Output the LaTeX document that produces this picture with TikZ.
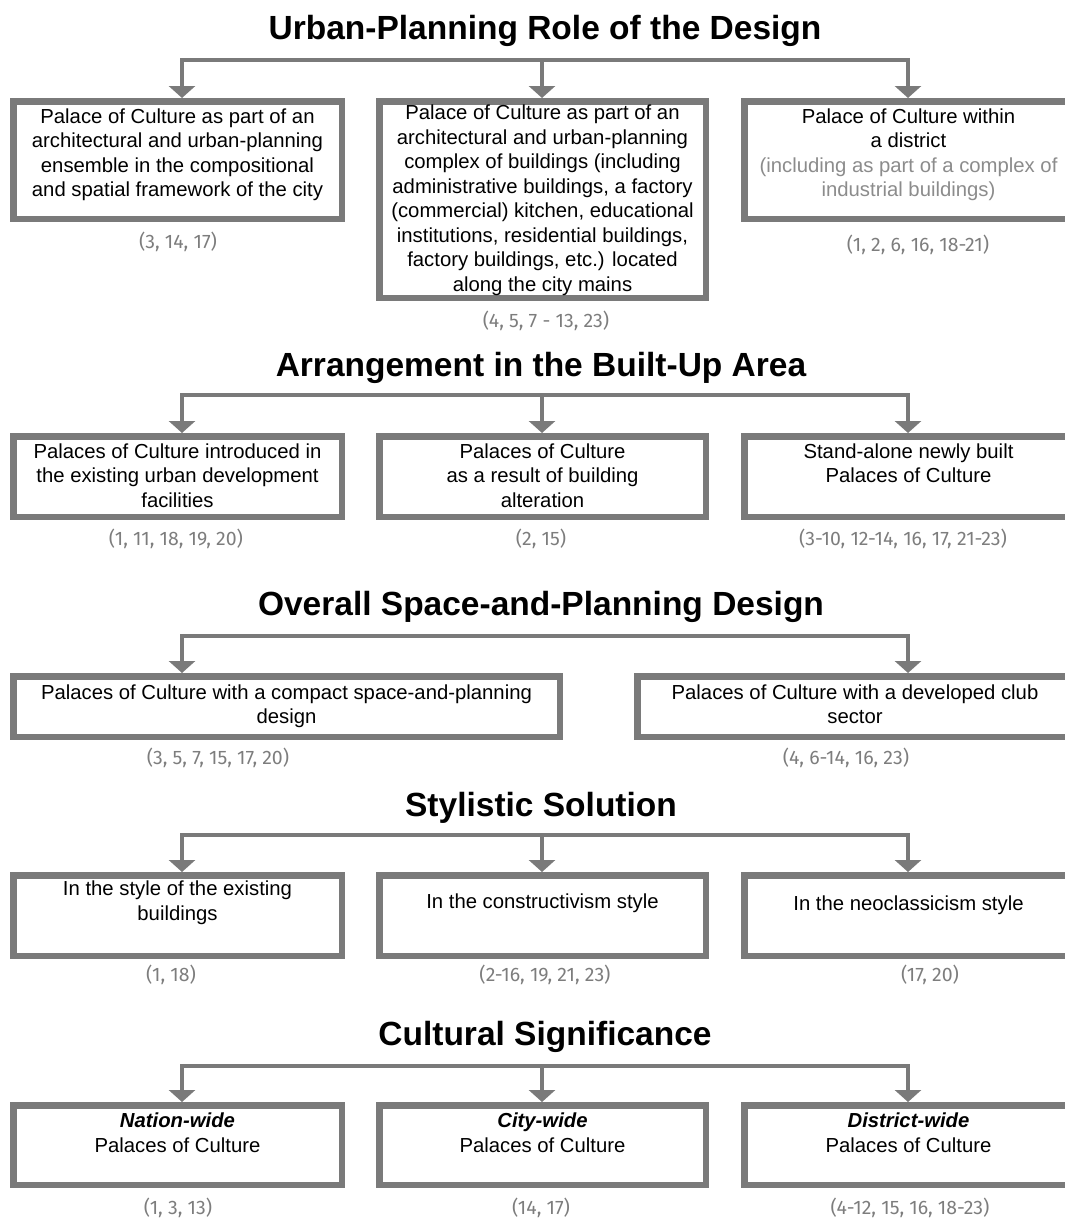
\documentclass[tikz,border=0pt]{standalone}
\usepackage{fontspec}
\setmainfont{Liberation Sans}
\newfontfamily\numfont{Fira Sans}
\usetikzlibrary{positioning,arrows.meta}

\definecolor{framegray}{RGB}{122,122,122}
\definecolor{refgray}{RGB}{125,125,125}
\definecolor{notegray}{RGB}{140,140,140}

\tikzset{
  heading/.style={anchor=base, inner sep=0pt, font=\fontsize{33.5}{38}\selectfont\bfseries},
  catbox/.style={draw=framegray, line width=6.5pt, fill=white, inner sep=0pt},
  cattext/.style={anchor=north, inner sep=0pt, align=center,
    font=\fontsize{20.3}{24.5}\selectfont, execute at begin node=\strut},
  reflabel/.style={anchor=base, inner sep=0pt, text=refgray,
    font=\fontsize{19.5}{22}\selectfont\numfont},
  link/.style={draw=framegray, line width=4.5pt},
}

\begin{document}
\begin{tikzpicture}[x=1pt, y=-1pt, >={Triangle[width=26pt,length=12pt]}]
\useasboundingbox (0,0) rectangle (1065,1218);
\clip (0,0) rectangle (1065,1218);

% headings
\node[heading] (tu) at (545,39) {Urban-Planning Role of the Design};
\node[heading] (ta) at (541,376) {Arrangement in the Built-Up Area};
\node[heading] (to) at (541,615) {Overall Space-and-Planning Design};
\node[heading] (ts) at (541,816) {Stylistic Solution};
\node[heading] (tc) at (545,1045) {Cultural Significance};

% urban-planning role
\node[catbox, minimum width=328.5, minimum height=117.5] (u1) at (177.5,160) {};
\node[catbox, minimum width=326.5, minimum height=196.5] (u2) at (542.5,199.5) {};
\node[catbox, minimum width=328.5, minimum height=117.5] (u3) at (908.5,160) {};
\node[cattext, below=10.5pt of u1.north] (u1t) {Palace of Culture as part of an\\architectural and urban-planning\\ensemble in the compositional\\and spatial framework of the city};
\node[cattext, below=7pt of u2.north] (u2t) {Palace of Culture as part of an\\architectural and urban-planning\\complex of buildings (including\\administrative buildings, a factory\\(commercial) kitchen, educational\\institutions, residential buildings,\\factory buildings, etc.) located\\along the city mains};
\node[cattext, below=10.5pt of u3.north] (u3t) {Palace of Culture within\\a district\\{\color{notegray}(including as part of a complex of}\\{\color{notegray}industrial buildings)}};
\node[reflabel] (u1n) at (178,248) {(3, 14, 17)};
\node[reflabel] (u2n) at (546,327) {(4, 5, 7 - 13, 23)};
\node[reflabel] (u3n) at (918,251) {(1, 2, 6, 16, 18-21)};

% arrangement in the built-up area
\node[catbox, minimum width=328.5, minimum height=80.5] (a1) at (177.5,476.5) {};
\node[catbox, minimum width=326.5, minimum height=80.5] (a2) at (542.5,476.5) {};
\node[catbox, minimum width=328.5, minimum height=80.5] (a3) at (908.5,476.5) {};
\node[cattext, below=10.5pt of a1.north] (a1t) {Palaces of Culture introduced in\\the existing urban development\\facilities};
\node[cattext, below=10.5pt of a2.north] (a2t) {Palaces of Culture\\as a result of building\\alteration};
\node[cattext, below=10.5pt of a3.north] (a3t) {Stand-alone newly built\\Palaces of Culture};
\node[reflabel] (a1n) at (176,545) {(1, 11, 18, 19, 20)};
\node[reflabel] (a2n) at (541,545) {(2, 15)};
\node[reflabel] (a3n) at (903,545) {(3-10, 12-14, 16, 17, 21-23)};

% overall space-and-planning design
\node[catbox, minimum width=546.5, minimum height=60.5] (o1) at (286.5,706.5) {};
\node[catbox, minimum width=435.5, minimum height=60.5] (o2) at (855,706.5) {};
\node[cattext, below=11.5pt of o1.north] (o1t) {Palaces of Culture with a compact space-and-planning\\design};
\node[cattext, below=11.5pt of o2.north] (o2t) {Palaces of Culture with a developed club\\sector};
\node[reflabel] (o1n) at (218,764) {(3, 5, 7, 15, 17, 20)};
\node[reflabel] (o2n) at (846,764) {(4, 6-14, 16, 23)};

% stylistic solution
\node[catbox, minimum width=328.5, minimum height=80.5] (s1) at (177.5,915.5) {};
\node[catbox, minimum width=326.5, minimum height=80.5] (s2) at (542.5,915.5) {};
\node[catbox, minimum width=328.5, minimum height=80.5] (s3) at (908.5,915.5) {};
\node[cattext, below=9pt of s1.north] (s1t) {In the style of the existing\\buildings};
\node[cattext, below=19pt of s2.north] (s2t) {In the constructivism style};
\node[cattext, below=21pt of s3.north] (s3t) {In the neoclassicism style};
\node[reflabel] (s1n) at (171,981) {(1, 18)};
\node[reflabel] (s2n) at (545,981) {(2-16, 19, 21, 23)};
\node[reflabel] (s3n) at (930,981) {(17, 20)};

% cultural significance
\node[catbox, minimum width=328.5, minimum height=79.5] (c1) at (177.5,1145) {};
\node[catbox, minimum width=326.5, minimum height=79.5] (c2) at (542.5,1145) {};
\node[catbox, minimum width=328.5, minimum height=79.5] (c3) at (908.5,1145) {};
\node[cattext, below=11pt of c1.north] (c1t) {\textbf{\textit{Nation-wide}}\\Palaces of Culture};
\node[cattext, below=11pt of c2.north] (c2t) {\textbf{\textit{City-wide}}\\Palaces of Culture};
\node[cattext, below=11pt of c3.north] (c3t) {\textbf{\textit{District-wide}}\\Palaces of Culture};
\node[reflabel] (c1n) at (178,1214) {(1, 3, 13)};
\node[reflabel] (c2n) at (541,1214) {(14, 17)};
\node[reflabel] (c3n) at (910,1214) {(4-12, 15, 16, 18-23)};

% connectors
\foreach \p/\h in {u/60,a/395,s/835,c/1066}{
  \coordinate (\p L) at (182,\h);
  \coordinate (\p M) at (542,\h);
  \coordinate (\p R) at (908,\h);
  \draw[link,<->] (\p1.north -| \p L) -- (\p L) -- (\p R) -- (\p3.north -| \p R);
  \draw[link,->] (\p M) -- (\p2.north -| \p M);
}
\coordinate (oL) at (182,636);
\coordinate (oR) at (908,636);
\draw[link,<->] (o1.north -| oL) -- (oL) -- (oR) -- (o2.north -| oR);
\end{tikzpicture}
\end{document}
